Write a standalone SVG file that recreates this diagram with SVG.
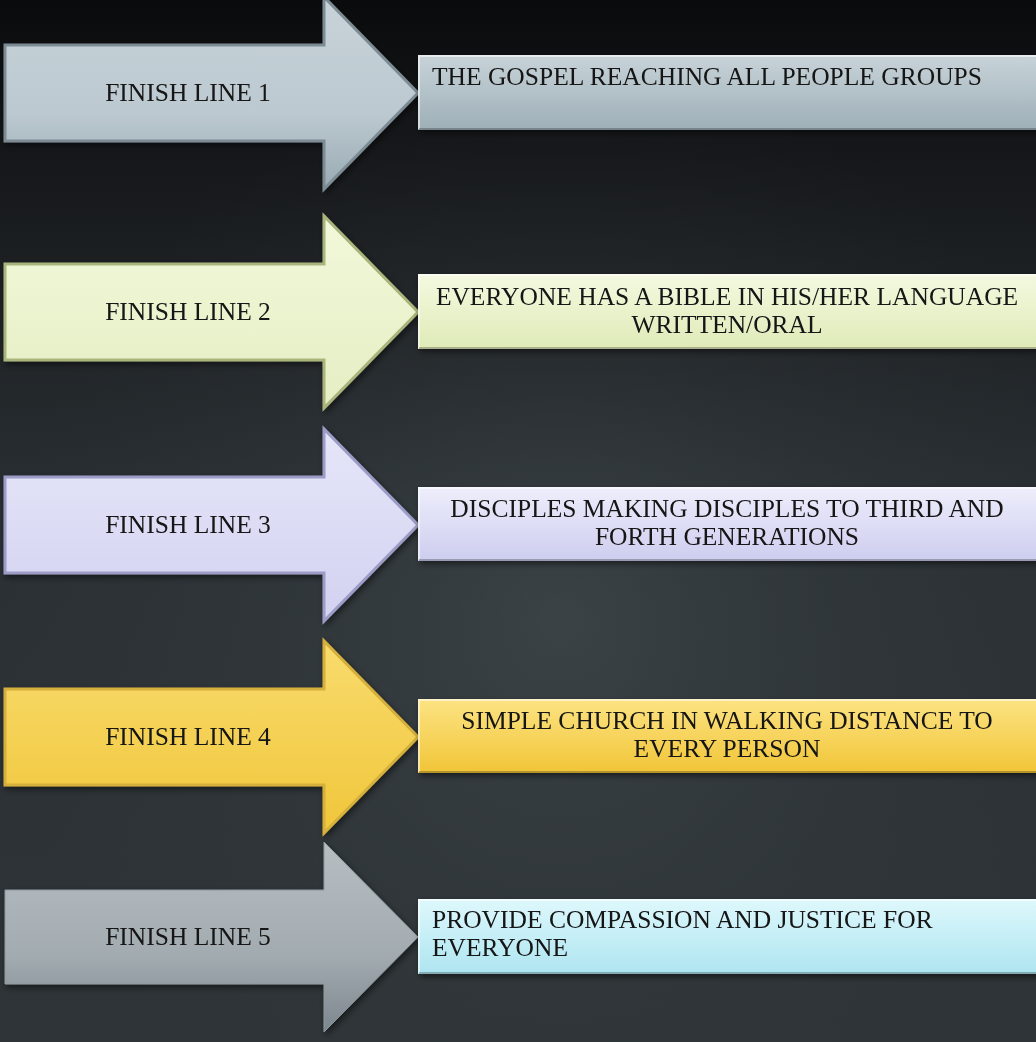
<svg xmlns="http://www.w3.org/2000/svg" width="1036" height="1042" viewBox="0 0 1036 1042">
  <defs>
    <linearGradient id="bgLin" x1="0" y1="0" x2="0" y2="1">
      <stop offset="0" stop-color="#0a0b0c"/>
      <stop offset="0.22" stop-color="#1a1d20"/>
      <stop offset="0.5" stop-color="#2a3034"/>
      <stop offset="1" stop-color="#2e3437"/>
    </linearGradient>
    <radialGradient id="bgRad" cx="560" cy="620" r="560" gradientUnits="userSpaceOnUse">
      <stop offset="0" stop-color="#5a6468" stop-opacity="0.35"/>
      <stop offset="0.5" stop-color="#4a5256" stop-opacity="0.15"/>
      <stop offset="1" stop-color="#3a4246" stop-opacity="0"/>
    </radialGradient>
    <linearGradient id="a1" x1="0" y1="0" x2="0" y2="1"><stop offset="0" stop-color="#c8d3d9"/><stop offset="0.6" stop-color="#bcc9d0"/><stop offset="1" stop-color="#9aabb4"/></linearGradient>
    <linearGradient id="a2" x1="0" y1="0" x2="0" y2="1"><stop offset="0" stop-color="#f2f8da"/><stop offset="1" stop-color="#e5eec4"/></linearGradient>
    <linearGradient id="a3" x1="0" y1="0" x2="0" y2="1"><stop offset="0" stop-color="#e6e6f9"/><stop offset="1" stop-color="#d2d2f1"/></linearGradient>
    <linearGradient id="a4" x1="0" y1="0" x2="0" y2="1"><stop offset="0" stop-color="#f9dc6e"/><stop offset="1" stop-color="#f0c63a"/></linearGradient>
    <linearGradient id="a5" x1="0" y1="0" x2="0" y2="1"><stop offset="0" stop-color="#b6bec2"/><stop offset="0.6" stop-color="#a2abb0"/><stop offset="1" stop-color="#7c878d"/></linearGradient>
    <linearGradient id="b1" x1="0" y1="0" x2="0" y2="1"><stop offset="0" stop-color="#c8d3d9"/><stop offset="1" stop-color="#9eafb7"/></linearGradient>
    <linearGradient id="b2" x1="0" y1="0" x2="0" y2="1"><stop offset="0" stop-color="#f4f9e0"/><stop offset="1" stop-color="#dfebb8"/></linearGradient>
    <linearGradient id="b3" x1="0" y1="0" x2="0" y2="1"><stop offset="0" stop-color="#eeeefc"/><stop offset="1" stop-color="#cdcdef"/></linearGradient>
    <linearGradient id="b4" x1="0" y1="0" x2="0" y2="1"><stop offset="0" stop-color="#fce383"/><stop offset="1" stop-color="#f1c537"/></linearGradient>
    <linearGradient id="b5" x1="0" y1="0" x2="0" y2="1"><stop offset="0" stop-color="#def8fc"/><stop offset="1" stop-color="#aee5f1"/></linearGradient>
    <filter id="shadow" x="-10%" y="-20%" width="130%" height="150%">
      <feDropShadow dx="2" dy="3" stdDeviation="3" flood-color="#000" flood-opacity="0.5"/>
    </filter>
  </defs>
  <style>
    .lbl { font-family: "Liberation Serif", "Times New Roman", serif; font-size: 25.5px; fill: #141414; }
    .mid { text-anchor: middle; }
    .hl { fill: none; stroke: #ffffff; stroke-opacity: 0.55; stroke-width: 2; }
    .dk { fill: none; stroke: #000000; stroke-opacity: 0.25; stroke-width: 2; }
  </style>
  <rect x="0" y="0" width="1036" height="1042" fill="url(#bgLin)"/>
  <rect x="0" y="0" width="1036" height="1042" fill="url(#bgRad)"/>

  <g id="connectors"></g>

  <g id="arrow1" filter="url(#shadow)">
    <path d="M5,45 H324 V-3 L418,93 L324,189 V141 H5 Z" fill="url(#a1)" stroke="#7d8c94" stroke-width="3"/>
    <text class="lbl mid" x="188" y="101">FINISH LINE 1</text>
  </g>
  <g id="box1" filter="url(#shadow)">
    <rect x="418" y="55" width="630" height="75" fill="url(#b1)"/>
    <path class="hl" d="M419,129 V56 H1040"/>
    <path class="dk" d="M419,129 H1040"/>
    <text class="lbl" x="432" y="85">THE GOSPEL REACHING ALL PEOPLE GROUPS</text>
  </g>

  <g id="arrow2" filter="url(#shadow)">
    <path d="M5,264 H324 V216 L418,312 L324,408 V360 H5 Z" fill="url(#a2)" stroke="#a9b57d" stroke-width="3"/>
    <text class="lbl mid" x="188" y="320">FINISH LINE 2</text>
  </g>
  <g id="box2" filter="url(#shadow)">
    <rect x="418" y="274" width="630" height="75" fill="url(#b2)"/>
    <path class="hl" d="M419,348 V275 H1040"/>
    <path class="dk" d="M419,348 H1040"/>
    <text class="lbl mid" x="727" y="305">EVERYONE HAS A BIBLE IN HIS/HER LANGUAGE</text>
    <text class="lbl mid" x="727" y="333">WRITTEN/ORAL</text>
  </g>

  <g id="arrow3" filter="url(#shadow)">
    <path d="M5,477 H324 V429 L418,525 L324,621 V573 H5 Z" fill="url(#a3)" stroke="#9c9cc6" stroke-width="3"/>
    <text class="lbl mid" x="188" y="533">FINISH LINE 3</text>
  </g>
  <g id="box3" filter="url(#shadow)">
    <rect x="418" y="487" width="630" height="74" fill="url(#b3)"/>
    <path class="hl" d="M419,560 V488 H1040"/>
    <path class="dk" d="M419,560 H1040"/>
    <text class="lbl mid" x="727" y="517">DISCIPLES MAKING DISCIPLES TO THIRD AND</text>
    <text class="lbl mid" x="727" y="545">FORTH GENERATIONS</text>
  </g>

  <g id="arrow4" filter="url(#shadow)">
    <path d="M5,689 H324 V641 L418,737 L324,833 V785 H5 Z" fill="url(#a4)" stroke="#d6b03c" stroke-width="3"/>
    <text class="lbl mid" x="188" y="745">FINISH LINE 4</text>
  </g>
  <g id="box4" filter="url(#shadow)">
    <rect x="418" y="699" width="630" height="74" fill="url(#b4)"/>
    <path class="hl" d="M419,772 V700 H1040"/>
    <path class="dk" d="M419,772 H1040"/>
    <text class="lbl mid" x="727" y="729">SIMPLE CHURCH IN WALKING DISTANCE TO</text>
    <text class="lbl mid" x="727" y="757">EVERY PERSON</text>
  </g>

  <g id="arrow5" filter="url(#shadow)">
    <path d="M5,890 H324 V842 L418,937 L324,1032 V984 H5 Z" fill="url(#a5)" stroke="#8e989d" stroke-width="1"/>
    <text class="lbl mid" x="188" y="945">FINISH LINE 5</text>
  </g>
  <g id="box5" filter="url(#shadow)">
    <rect x="418" y="899" width="630" height="75" fill="url(#b5)"/>
    <path class="hl" d="M419,973 V900 H1040"/>
    <path class="dk" d="M419,973 H1040"/>
    <text class="lbl" x="432" y="928">PROVIDE COMPASSION AND JUSTICE FOR</text>
    <text class="lbl" x="432" y="956">EVERYONE</text>
  </g>
</svg>
